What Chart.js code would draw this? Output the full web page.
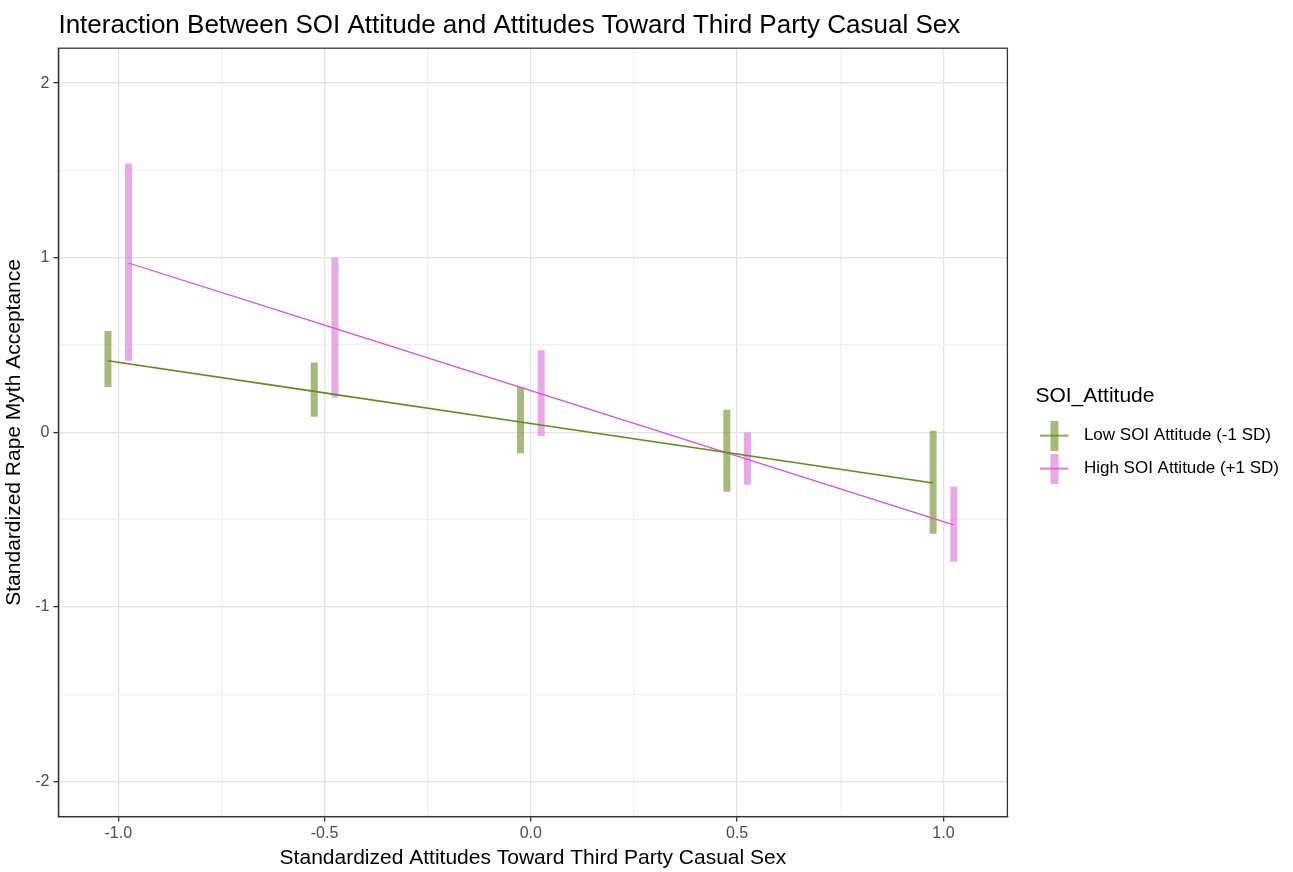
<!DOCTYPE html>
<html>
<head>
<meta charset="utf-8">
<script src="https://cdn.jsdelivr.net/npm/chart.js@4.4.1/dist/chart.umd.min.js"></script>
<style>
  html, body { margin: 0; padding: 0; background: #fff; }
  #wrap { width: 1293px; height: 872px; }
</style>
</head>
<body>
<div id="wrap"><canvas id="chart" width="1293" height="872"></canvas></div>
<script>
// predictor levels
const xLevels = [-1.0, -0.5, 0.0, 0.5, 1.0];

// Low SOI Attitude (-1 SD)
const lowMean  = [0.41, 0.235, 0.06, -0.115, -0.29];
const lowLower = [0.26, 0.09, -0.12, -0.34, -0.58];
const lowUpper = [0.58, 0.40, 0.26, 0.13, 0.01];

// High SOI Attitude (+1 SD)
const highMean  = [0.97, 0.595, 0.22, -0.155, -0.53];
const highLower = [0.41, 0.20, -0.02, -0.30, -0.74];
const highUpper = [1.54, 1.00, 0.47, 0.00, -0.31];

const seriesNames = ["Low SOI Attitude (-1 SD)", "High SOI Attitude (+1 SD)"];

const xTicks = [-1.0, -0.75, -0.5, -0.25, 0.0, 0.25, 0.5, 0.75, 1.0];
const yTicks = [-2, -1.5, -1, -0.5, 0, 0.5, 1, 1.5, 2];

const dodge = 0.025;
const lowLine = "#5f8c1c";
const lowBar = "rgba(107,142,35,0.6)";
const highLine = "#dc4fd8";
const highBar = "rgba(218,112,214,0.6)";
const FONT = "'Liberation Sans', Arial, sans-serif";

// legend key: translucent bar crossed by the line (drawn in the left part of the image)
function glyph(lineCol, barCol) {
  const c = document.createElement("canvas");
  c.width = 46; c.height = 30;
  const g = c.getContext("2d");
  g.fillStyle = barCol;
  g.fillRect(10, 0, 8, 30);
  g.strokeStyle = lineCol;
  g.lineWidth = 1.5;
  g.beginPath(); g.moveTo(0, 15); g.lineTo(28, 15); g.stroke();
  return c;
}

const datasets = [];
xLevels.forEach((x, i) => {
  datasets.push({
    type: "line", order: 2,
    data: [{ x: x - dodge, y: lowLower[i] }, { x: x - dodge, y: lowUpper[i] }],
    borderColor: lowBar, borderWidth: 7, borderCapStyle: "butt",
    pointRadius: 0, pointHoverRadius: 0
  });
  datasets.push({
    type: "line", order: 2,
    data: [{ x: x + dodge, y: highLower[i] }, { x: x + dodge, y: highUpper[i] }],
    borderColor: highBar, borderWidth: 7, borderCapStyle: "butt",
    pointRadius: 0, pointHoverRadius: 0
  });
});
datasets.push({
  type: "line", order: 0, label: seriesNames[0],
  data: xLevels.map((x, i) => ({ x: x - dodge, y: lowMean[i] })),
  borderColor: lowLine, borderWidth: 1.6, pointRadius: 0, tension: 0
});
datasets.push({
  type: "line", order: 0, label: seriesNames[1],
  data: xLevels.map((x, i) => ({ x: x + dodge, y: highMean[i] })),
  borderColor: highLine, borderWidth: 1.3, pointRadius: 0, tension: 0
});

// title flush with the panel, legend nudged off the panel, full panel border
const panel = {
  id: "panel",
  afterLayout(chart) {
    chart.titleBlock.left = chart.chartArea.left;
    chart.legend.left += 28;
    chart.legend.right += 28;
  },
  afterDraw(chart) {
    const { ctx, chartArea: a } = chart;
    ctx.save();
    ctx.strokeStyle = "#333";
    ctx.lineWidth = 1.3;
    ctx.strokeRect(a.left, a.top, a.right - a.left, a.bottom - a.top);
    ctx.restore();
  }
};

const isMajorX = v => Math.abs(v * 2 - Math.round(v * 2)) < 1e-6;
const isMajorY = v => Math.abs(v - Math.round(v)) < 1e-6;

new Chart(document.getElementById("chart").getContext("2d"), {
  type: "line",
  data: { datasets },
  plugins: [panel],
  options: {
    responsive: false,
    devicePixelRatio: 1,
    animation: false,
    layout: { padding: { left: 0, right: 32, top: 0, bottom: 1 } },
    plugins: {
      title: {
        display: true,
        text: "Interaction Between SOI Attitude and Attitudes Toward Third Party Casual Sex",
        align: "start",
        color: "#000",
        font: { family: FONT, size: 26, weight: "normal" },
        padding: { top: 10, bottom: 7 }
      },
      legend: {
        display: true,
        position: "right",
        align: "center",
        title: {
          display: true,
          text: "SOI_Attitude",
          position: "start",
          color: "#000",
          font: { family: FONT, size: 21 },
          padding: { top: 8, bottom: 0 }
        },
        labels: {
          usePointStyle: true,
          pointStyleWidth: 24,
          boxWidth: 24,
          boxHeight: 17,
          padding: 16,
          color: "#000",
          font: { family: FONT, size: 17 },
          generateLabels: () => [
            { text: seriesNames[0], pointStyle: glyph(lowLine, lowBar), fillStyle: lowBar, strokeStyle: lowLine, lineWidth: 0, fontColor: "#000", datasetIndex: 10 },
            { text: seriesNames[1], pointStyle: glyph(highLine, highBar), fillStyle: highBar, strokeStyle: highLine, lineWidth: 0, fontColor: "#000", datasetIndex: 11 }
          ]
        }
      },
      tooltip: { enabled: false }
    },
    scales: {
      x: {
        type: "linear",
        min: -1.145, max: 1.155,
        afterBuildTicks: s => { s.ticks = xTicks.map(v => ({ value: v })); },
        ticks: {
          color: "#4d4d4d",
          font: { family: FONT, size: 16 },
          padding: 2,
          maxRotation: 0,
          callback: v => isMajorX(v) ? v.toFixed(1) : ""
        },
        grid: {
          color: c => isMajorX(c.tick.value) ? "#e4e4e4" : "#f1f1f1",
          tickColor: c => isMajorX(c.tick.value) ? "#333" : "rgba(0,0,0,0)",
          tickLength: 5,
          lineWidth: 1.3
        },
        border: { color: "#333", width: 1.3 },
        title: {
          display: true,
          text: "Standardized Attitudes Toward Third Party Casual Sex",
          color: "#000",
          font: { family: FONT, size: 21 },
          padding: { top: 1, bottom: 0 }
        }
      },
      y: {
        type: "linear",
        min: -2.2, max: 2.2,
        afterBuildTicks: s => { s.ticks = yTicks.map(v => ({ value: v })); },
        ticks: {
          color: "#4d4d4d",
          font: { family: FONT, size: 16 },
          padding: 4,
          callback: v => isMajorY(v) ? String(v) : ""
        },
        grid: {
          color: c => isMajorY(c.tick.value) ? "#e4e4e4" : "#f1f1f1",
          tickColor: c => isMajorY(c.tick.value) ? "#333" : "rgba(0,0,0,0)",
          tickLength: 5,
          lineWidth: 1.3
        },
        border: { color: "#333", width: 1.3 },
        title: {
          display: true,
          text: "Standardized Rape Myth Acceptance",
          color: "#000",
          font: { family: FONT, size: 21 },
          padding: { top: 2, bottom: 4 }
        }
      }
    }
  }
});
</script>
</body>
</html>
